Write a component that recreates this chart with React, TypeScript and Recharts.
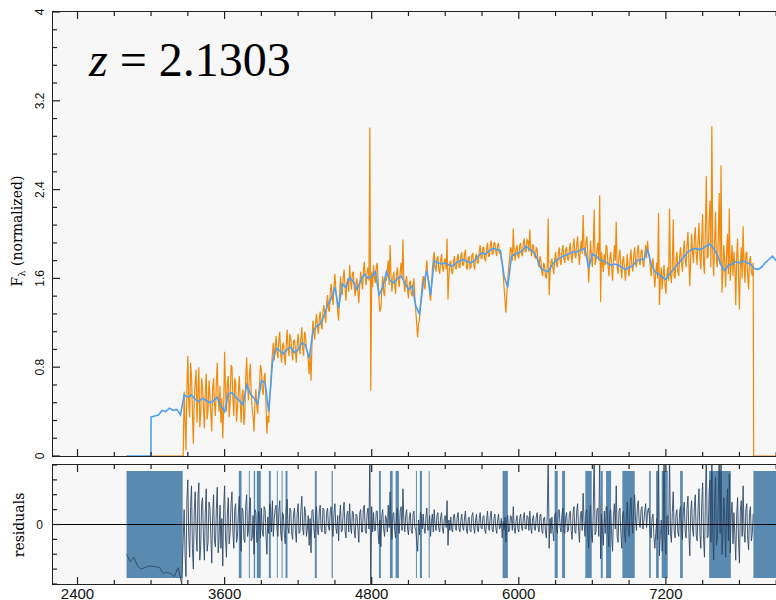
import React from 'react';
import {
  LineChart,
  Line,
  XAxis,
  YAxis,
  ReferenceArea,
  ReferenceLine,
} from 'recharts';

// Observed spectrum on a regular wavelength grid (Angstrom)
const FLUX_START = 3270;
const FLUX_STEP = 7.5;
// wavelengths where the observed flux sits at zero (outside the coverage)
const FLUX_ZERO_LEFT = [3000, 3262];
const FLUX_ZERO_RIGHT = [7916, 8160];

const FLUX = [
  /* 3270 */ 0.58, 0.31, 0.05, 0.62, 0.9, 0.48, 0.35, 0.84, 0.72, 0.4, 0.11, 0.52, 0.66, 0.78, 0.3, 0.57, 0.8, 0.26, 0.38, 0.7,
  /* 3420 */ 0.62, 0.44, 0.25, 0.58, 0.74, 0.33, 0.42, 0.68, 0.55, 0.39, 0.22, 0.61, 0.7, 0.47, 0.36, 0.66, 0.84, 0.5, 0.4, 0.63,
  /* 3570 */ 0.3, 0.52, 0.16, 0.45, 0.94, 0.6, 0.4, 0.66, 0.72, 0.35, 0.48, 0.82, 0.8, 0.52, 0.36, 0.7, 0.66, 0.31, 0.44, 0.58,
  /* 3720 */ 0.72, 0.48, 0.3, 0.55, 0.6, 0.28, 0.38, 0.7, 0.89, 0.62, 0.5, 0.74, 0.83, 0.56, 0.42, 0.35, 0.22, 0.48, 0.6, 0.45,
  /* 3870 */ 0.38, 0.56, 0.64, 0.82, 0.78, 0.6, 0.55, 0.71, 0.75, 0.48, 0.2, 0.36, 0.3, 0.52, 0.62, 0.8, 0.92, 1.02, 0.86, 0.98,
  /* 4020 */ 1.08, 0.94, 0.88, 1.04, 1.12, 0.92, 0.84, 0.99, 1.02, 0.9, 0.82, 1.0, 1.14, 0.97, 0.9, 1.1, 1.06, 0.95, 0.86, 1.03,
  /* 4170 */ 1.05, 0.96, 0.84, 1.0, 1.1, 0.98, 0.92, 1.06, 1.16, 0.96, 0.9, 1.12, 1.08, 0.97, 0.94, 0.86, 0.74, 0.92, 0.68, 1.0,
  /* 4320 */ 1.22, 1.12, 1.05, 1.2, 1.28, 1.16, 1.1, 1.24, 1.3, 1.18, 1.14, 1.3, 1.36, 1.26, 1.2, 1.38, 1.45, 1.32, 1.3, 1.48,
  /* 4470 */ 1.55, 1.44, 1.36, 1.52, 1.64, 1.5, 1.42, 1.3, 1.22, 1.44, 1.62, 1.5, 1.45, 1.6, 1.68, 1.52, 1.4, 1.56, 1.6, 1.48,
  /* 4620 */ 1.72, 1.58, 1.5, 1.64, 1.66, 1.52, 1.44, 1.56, 1.6, 1.48, 1.38, 1.54, 1.66, 1.58, 1.5, 1.68, 1.75, 1.6, 1.54, 1.66,
  /* 4770 */ 1.7, 1.58, 2.96, 0.59, 1.66, 1.52, 1.72, 1.6, 1.56, 1.7, 1.74, 1.58, 1.4, 1.3, 1.33, 1.5, 1.62, 1.48, 1.44, 1.6,
  /* 4920 */ 1.58, 1.68, 1.76, 1.54, 1.9, 1.62, 1.48, 1.6, 1.66, 1.55, 1.46, 1.64, 1.7, 1.58, 1.52, 1.66, 1.74, 1.6, 1.95, 1.56,
  /* 5070 */ 1.48, 1.58, 1.62, 1.5, 1.42, 1.56, 1.58, 1.46, 1.44, 1.54, 1.6, 1.42, 1.3, 1.18, 1.07, 1.2, 1.22, 1.36, 1.45, 1.56,
  /* 5220 */ 1.62, 1.54, 1.5, 1.66, 1.76, 1.62, 1.58, 1.46, 1.4, 1.52, 1.68, 1.78, 1.84, 1.7, 1.66, 1.78, 1.8, 1.68, 1.64, 1.76,
  /* 5370 */ 1.82, 1.7, 1.66, 1.76, 1.78, 1.68, 1.96, 1.41, 1.62, 1.74, 1.76, 1.66, 1.64, 1.76, 1.8, 1.7, 1.68, 1.78, 1.82, 1.7,
  /* 5520 */ 1.7, 1.8, 1.84, 1.72, 1.72, 1.82, 1.86, 1.7, 1.68, 1.78, 1.8, 1.69, 1.7, 1.81, 1.83, 1.72, 1.68, 1.8, 1.82, 1.74,
  /* 5670 */ 1.74, 1.84, 1.9, 1.78, 1.78, 1.88, 1.88, 1.77, 1.76, 1.86, 1.92, 1.8, 1.8, 1.9, 1.94, 1.82, 1.82, 1.92, 1.92, 1.84,
  /* 5820 */ 1.8, 1.9, 1.92, 1.82, 1.84, 1.76, 1.74, 1.64, 1.52, 1.4, 1.29, 1.46, 1.58, 1.7, 1.78, 1.88, 1.86, 1.76, 2.05, 1.84,
  /* 5970 */ 1.76, 1.86, 1.9, 1.8, 1.78, 1.9, 1.92, 1.82, 1.8, 1.92, 1.96, 1.84, 1.84, 1.95, 1.94, 1.84, 2.04, 1.86, 1.8, 1.9,
  /* 6120 */ 1.9, 1.8, 1.78, 1.88, 1.86, 1.74, 1.7, 1.8, 1.76, 1.66, 1.62, 1.74, 1.72, 1.62, 1.6, 1.72, 2.14, 1.45, 1.64, 1.74,
  /* 6270 */ 1.78, 1.7, 1.64, 1.76, 1.84, 1.74, 1.7, 1.82, 1.88, 1.76, 1.72, 1.84, 1.9, 1.78, 1.74, 1.86, 1.88, 1.78, 1.76, 1.86,
  /* 6420 */ 1.92, 1.8, 1.74, 1.88, 1.96, 1.82, 1.78, 1.9, 1.98, 1.84, 1.72, 1.86, 1.94, 1.82, 2.17, 1.88, 1.8, 1.92, 1.98, 1.84,
  /* 6570 */ 1.56, 1.74, 1.94, 1.8, 1.7, 1.88, 2.22, 1.72, 1.76, 1.86, 1.92, 1.76, 2.35, 1.39, 1.84, 1.74, 1.66, 1.82, 1.72, 1.9,
  /* 6720 */ 1.88, 1.72, 1.62, 1.78, 1.84, 1.7, 1.58, 1.74, 1.9, 1.76, 2.11, 1.7, 1.64, 1.8, 1.86, 1.7, 1.6, 1.76, 1.8, 1.68,
  /* 6870 */ 1.58, 1.7, 1.82, 1.68, 1.62, 1.76, 1.86, 1.72, 1.66, 1.8, 1.88, 1.74, 1.7, 1.84, 1.9, 1.76, 1.72, 1.84, 1.86, 1.74,
  /* 7020 */ 1.7, 1.82, 1.9, 1.78, 1.94, 1.84, 1.8, 1.7, 1.62, 1.74, 1.78, 1.64, 1.52, 1.66, 1.74, 1.6, 2.19, 1.36, 1.58, 1.7,
  /* 7170 */ 1.5, 1.64, 1.72, 1.56, 1.46, 1.62, 1.7, 1.58, 2.23, 1.64, 1.56, 1.7, 2.13, 1.62, 1.6, 1.76, 1.84, 1.66, 1.62, 1.8,
  /* 7320 */ 1.88, 1.74, 1.66, 1.84, 1.94, 1.78, 1.7, 1.9, 2.02, 1.76, 1.53, 1.8, 2.0, 1.84, 1.74, 1.96, 2.06, 1.82, 1.72, 1.94,
  /* 7470 */ 2.1, 1.8, 1.68, 1.96, 2.18, 1.74, 1.64, 2.06, 2.52, 1.78, 1.8, 2.12, 2.3, 1.7, 2.97, 1.84, 1.62, 1.92, 2.2, 1.76,
  /* 7620 */ 1.7, 1.96, 2.37, 1.72, 2.62, 1.47, 1.66, 1.9, 1.76, 1.52, 1.82, 2.0, 1.64, 2.23, 1.58, 1.74, 1.9, 1.62, 1.84, 1.7,
  /* 7770 */ 1.36, 1.78, 1.96, 1.64, 1.32, 1.7, 1.88, 1.6, 2.07, 1.72, 1.56, 1.82, 1.84, 1.62, 1.5, 1.76, 1.8, 1.66, 1.62, 1.74,
];

// Best-fit template
const MODEL_START = 3000;
const MODEL_STEP = 30;
const MODEL_ZERO_LEFT = [2800, 2999];

const MODEL = [
  /* 3000 */ 0.35, 0.36, 0.37, 0.41, 0.4, 0.43, 0.41, 0.42, 0.37, 0.55,
  /* 3300 */ 0.53, 0.55, 0.51, 0.49, 0.52, 0.5, 0.48, 0.5, 0.53, 0.45,
  /* 3600 */ 0.4, 0.56, 0.57, 0.53, 0.5, 0.46, 0.64, 0.56, 0.52, 0.47,
  /* 3900 */ 0.68, 0.66, 0.4, 0.84, 0.97, 0.95, 0.92, 0.96, 0.98, 0.93,
  /* 4200 */ 0.96, 1.02, 1.0, 0.88, 1.12, 1.17, 1.19, 1.26, 1.36, 1.42,
  /* 4500 */ 1.52, 1.33, 1.55, 1.52, 1.61, 1.57, 1.5, 1.58, 1.64, 1.6,
  /* 4800 */ 1.62, 1.66, 1.45, 1.52, 1.66, 1.58, 1.56, 1.6, 1.62, 1.56,
  /* 5100 */ 1.5, 1.53, 1.35, 1.28, 1.55, 1.67, 1.45, 1.76, 1.74, 1.73,
  /* 5400 */ 1.74, 1.72, 1.71, 1.74, 1.76, 1.77, 1.75, 1.74, 1.76, 1.8,
  /* 5700 */ 1.83, 1.82, 1.85, 1.87, 1.86, 1.85, 1.62, 1.52, 1.8, 1.82,
  /* 6000 */ 1.83, 1.85, 1.89, 1.86, 1.84, 1.78, 1.69, 1.67, 1.66, 1.72,
  /* 6300 */ 1.76, 1.78, 1.8, 1.81, 1.83, 1.84, 1.84, 1.86, 1.87, 1.69,
  /* 6600 */ 1.82, 1.8, 1.77, 1.76, 1.74, 1.72, 1.73, 1.72, 1.7, 1.68,
  /* 6900 */ 1.7, 1.71, 1.76, 1.77, 1.77, 1.86, 1.73, 1.66, 1.64, 1.61,
  /* 7200 */ 1.59, 1.64, 1.68, 1.72, 1.76, 1.8, 1.84, 1.86, 1.87, 1.86,
  /* 7500 */ 1.87, 1.89, 1.91, 1.87, 1.81, 1.72, 1.67, 1.72, 1.73, 1.75,
  /* 7800 */ 1.74, 1.76, 1.74, 1.73, 1.69, 1.68, 1.7, 1.74, 1.77, 1.8,
  /* 8100 */ 1.76, 1.74,
];

// Residuals: masked blue end on a coarse grid, then on the flux grid
const RESID_MASKED_START = 2800;
const RESID_MASKED_STEP = 30;
const RESID_MASKED = [
  -2.0, -2.5, -2.2, -2.8, -3.0, -2.9, -2.8, -2.8, -2.85, -2.9, -3.3, -3.2, -3.3, -3.5, -2.9, -4.0,
];

const RESID = [
  /* 3270 */ 1.0, -2.0, -3.5, 1.6, 3.0, -0.8, -2.2, 1.2, 2.6, -1.6, -3.0, 0.9, 2.2, -0.6, -1.8, 1.8, 2.8, -2.4, -1.4, 1.4,
  /* 3420 */ 1.8, -0.9, -2.4, 0.8, 2.4, -1.8, -1.2, 1.5, 1.2, -0.7, -2.6, 0.6, 2.0, -1.1, -1.5, 1.0, 2.5, -1.9, -1.0, 1.3,
  /* 3570 */ -1.6, 0.4, -2.8, 1.1, 2.6, -0.9, -2.2, 0.7, 1.8, -1.3, -0.6, 1.4, 2.2, -0.5, -1.6, 1.0, 1.4, -1.2, -0.8, 0.9,
  /* 3720 */ 1.9, -0.7, -1.8, 1.1, 0.9, -1.0, -1.2, 1.3, 2.0, -0.8, -0.4, 1.2, 1.8, -1.1, -0.9, 0.6, -2.0, 1.0, 0.8, -1.2,
  /* 3870 */ -1.1, 0.9, 0.6, -0.9, 1.1, -0.4, -0.8, 1.2, 1.0, -0.7, -2.0, 0.5, -0.6, 1.4, 1.2, -0.5, 1.6, -0.8, 0.4, 1.0,
  /* 4020 */ 1.3, -0.3, -0.8, 0.9, 1.6, -0.5, -1.1, 0.8, 0.6, -0.7, -1.3, 1.0, 1.7, -0.2, -0.6, 1.1, 0.9, -0.6, -1.0, 0.7,
  /* 4170 */ 1.1, -0.4, -1.2, 0.8, 1.4, -0.6, -0.5, 1.0, 1.9, -0.3, -0.7, 1.2, 0.8, -0.8, -0.3, 0.6, -1.4, 0.4, -1.9, 0.9,
  /* 4320 */ 1.0, -0.2, -0.9, 0.7, 1.2, -0.4, -0.7, 0.9, 1.3, -0.3, -0.5, 1.1, 1.0, -0.6, -0.6, 0.8, 1.1, -0.2, -0.4, 1.0,
  /* 4470 */ 1.2, -0.3, -0.8, 0.8, 1.4, -0.2, -0.6, 0.6, -1.1, 0.5, 1.3, -0.5, -0.4, 0.9, 1.5, -0.4, -0.9, 0.7, 0.9, -0.5,
  /* 4620 */ 1.4, -0.2, -0.6, 0.9, 0.8, -0.4, -0.9, 0.7, 0.6, -0.3, -1.2, 0.8, 1.0, -0.5, -0.5, 1.1, 1.3, -0.4, -0.6, 0.7,
  /* 4770 */ 1.1, -0.3, 5.0, -5.0, 1.2, -0.5, 0.8, -0.4, -0.4, 0.9, 0.9, -0.6, -1.3, 0.3, -1.5, 0.6, 1.0, -0.3, -0.8, 0.6,
  /* 4920 */ 0.4, -0.5, 1.3, -0.2, 2.2, 0.3, -1.0, 0.6, 0.8, -0.4, -0.9, 0.7, 1.1, -0.3, -0.6, 0.9, 1.2, -0.4, 2.4, 0.2,
  /* 5070 */ -0.5, 0.6, 1.0, -0.3, -0.7, 0.5, 0.8, -0.4, -0.6, 0.7, 0.9, -0.2, -0.4, -1.1, -1.8, 0.3, -0.7, 0.8, 0.6, -0.3,
  /* 5220 */ 0.7, -0.2, -0.6, 0.5, 1.1, -0.4, -0.3, 0.6, -0.8, 0.2, 0.7, -0.5, 1.0, -0.1, -0.4, 0.6, 0.8, -0.3, -0.5, 0.5,
  /* 5370 */ 0.8, -0.3, -0.6, 0.4, 0.6, -0.2, 1.6, -1.4, 0.3, -0.4, 0.5, -0.3, -0.5, 0.6, 0.7, -0.2, -0.4, 0.5, 0.8, -0.3,
  /* 5520 */ -0.5, 0.3, 0.7, -0.2, -0.4, 0.5, 0.9, -0.3, -0.6, 0.4, 0.5, -0.4, -0.5, 0.6, 0.8, -0.2, -0.6, 0.3, 0.7, -0.3,
  /* 5670 */ -0.5, 0.4, 0.8, -0.2, -0.3, 0.5, 0.6, -0.4, -0.6, 0.3, 0.9, -0.2, -0.4, 0.6, 0.9, -0.3, -0.5, 0.4, 0.7, -0.2,
  /* 5820 */ -0.6, 0.3, 0.7, -0.3, -0.2, 0.4, -0.9, 0.2, -0.4, 0.5, -1.2, 0.3, 0.6, -0.5, -0.3, 0.6, 0.5, -0.4, 1.2, -0.2,
  /* 5970 */ -0.6, 0.2, 0.6, -0.3, -0.5, 0.4, 0.7, -0.2, -0.4, 0.5, 0.8, -0.3, -0.3, 0.6, 0.5, -0.4, 0.9, -0.2, -0.6, 0.4,
  /* 6120 */ 0.6, -0.3, -0.4, 0.5, 0.8, -0.2, -0.5, 0.6, 0.7, -0.4, -0.6, 0.4, 0.5, -0.5, -0.9, 0.7, 4.8, -1.6, 0.4, -0.6,
  /* 6270 */ 0.5, -0.4, -1.1, 0.6, 0.8, -0.3, -0.6, 0.9, 1.0, -0.2, -0.5, 0.7, 1.1, -0.4, -0.6, 0.5, 0.8, -0.5, -0.4, 0.7,
  /* 6420 */ 0.9, -0.4, -1.0, 0.7, 1.2, -0.5, -0.6, 0.9, 1.4, -0.3, -1.2, 0.6, 0.9, -0.4, 2.1, 0.2, -0.8, 0.8, 1.0, -0.5,
  /* 6570 */ -1.6, 0.5, 1.3, -0.6, -1.2, 0.9, 4.8, -0.7, -0.5, 1.0, 1.1, -0.8, 4.8, -2.3, 0.7, -0.4, -1.4, 0.9, -0.6, 1.2,
  /* 6720 */ 1.2, -0.6, -1.5, 0.8, 1.0, -0.7, -1.8, 0.6, 1.4, -0.3, 2.6, -0.8, -1.2, 0.9, 1.1, -0.5, -1.6, 0.7, 0.9, -0.6,
  /* 6870 */ -1.2, 0.4, 1.5, -0.3, -0.8, 1.0, 1.8, 0.2, -0.6, 1.1, 2.0, 0.3, -0.4, 1.2, 1.6, 0.1, -0.2, 1.0, 1.2, -0.3,
  /* 7020 */ 0.2, 0.9, 1.4, -0.2, 0.8, 1.1, 0.6, -0.5, -0.9, 0.5, 0.7, -0.8, -1.6, -0.6, 0.4, -1.0, 4.8, -2.1, -0.7, 0.3,
  /* 7170 */ -1.8, -0.4, 4.8, -0.9, -2.0, 0.5, 0.6, -0.7, 4.8, -0.6, -1.2, 0.8, 2.2, -0.4, -0.9, 0.7, 1.0, -0.5, -0.8, 0.9,
  /* 7320 */ 1.2, -0.4, -1.0, 0.9, 1.5, -0.5, -0.9, 1.1, 1.9, -0.6, -2.1, 0.8, 1.6, -0.3, -0.8, 1.2, 2.0, -0.7, -1.1, 1.0,
  /* 7470 */ 2.4, -0.6, -1.6, 1.4, 2.8, -1.0, -2.2, 1.8, 4.8, -0.9, -0.8, 2.2, 3.0, -1.2, 4.8, -0.4, -2.4, 1.6, 3.2, -1.4,
  /* 7620 */ -1.0, 1.6, 4.8, -0.6, 4.8, -2.0, -0.9, 1.8, 0.6, -2.2, 0.9, 2.4, -1.1, 3.4, -1.9, 0.5, 1.5, -1.3, 0.8, -0.7,
  /* 7770 */ -2.4, 0.6, 1.8, -1.0, -2.6, 0.9, 1.6, -0.8, 2.6, -0.4, -1.2, 1.0, 1.4, -0.9, -1.7, 0.8, 1.2, -1.1, -0.6, 0.7,
];

// Masked wavelength ranges shaded in the residual panel
const MASKS = [
  [2800, 3258], [3716, 3738], [3798, 3806], [3838, 3849], [3863, 3895],
  [3961, 3977], [4026, 4034], [4065, 4073], [4097, 4113], [4336, 4352],
  [4473, 4483], [4859, 4875], [4949, 4971], [4995, 5022], [5161, 5169],
  [5193, 5210], [5265, 5273], [5868, 5911], [6293, 6318], [6353, 6377],
  [6543, 6595], [6669, 6685], [6712, 6753], [6845, 6946], [7063, 7077],
  [7120, 7142], [7166, 7215], [7316, 7338], [7553, 7730], [7914, 8200],
];

const X_TICKS = [
  2400, 2700, 3000, 3300, 3600, 3900, 4200, 4500, 4800, 5100, 5400, 5700,
  6000, 6300, 6600, 6900, 7200, 7500, 7800, 8100, 8400, 8700,
];
const X_LABELS = [2400, 3600, 4800, 6000, 7200, 8400];
const FLUX_TICKS = [
  0, 0.16, 0.32, 0.48, 0.64, 0.8, 0.96, 1.12, 1.28, 1.44, 1.6, 1.76, 1.92,
  2.08, 2.24, 2.4, 2.56, 2.72, 2.88, 3.04, 3.2, 3.36, 3.52, 3.68, 3.84, 4,
];
const FLUX_LABELS = [0, 0.8, 1.6, 2.4, 3.2, 4];
const RESID_TICKS = [-4, -3, -2, -1, 0, 1, 2, 3, 4];
const RESID_LABELS = [0];

const X_DOMAIN: [number, number] = [2200, 8800];
const ORANGE = '#f28a0c';
const BLUE = '#4ba0f2';
const NAVY = '#2a4565';
const BAND = '#5a8ab0';
const PANEL_BG = '#f7f7f7';
const INK = '#222';
const SANS = '"Liberation Sans", Arial, sans-serif';
const SERIF = '"DejaVu Serif", serif';

const fluxPts = [
  ...FLUX_ZERO_LEFT.map((w) => ({ w, f: 0 })),
  ...FLUX.map((f, i) => ({ w: FLUX_START + i * FLUX_STEP, f })),
  ...FLUX_ZERO_RIGHT.map((w) => ({ w, f: 0 })),
];
const modelPts = [
  ...MODEL_ZERO_LEFT.map((w) => ({ w, m: 0 })),
  ...MODEL.map((m, i) => ({ w: MODEL_START + i * MODEL_STEP, m })),
];
const residPts = [
  ...RESID_MASKED.map((r, i) => ({ w: RESID_MASKED_START + i * RESID_MASKED_STEP, r })),
  ...RESID.map((r, i) => ({ w: FLUX_START + i * FLUX_STEP, r })),
];

// inward tick marks on a horizontal axis; dir = +1 points down, -1 points up
function XTick(props: any) {
  const { x, y, payload, dir, labels } = props;
  const major = X_LABELS.includes(payload.value);
  return (
    <g>
      <line x1={x} x2={x} y1={y} y2={y + dir * (major ? 7 : 4)} stroke={INK} strokeWidth={1.2} />
      {labels && major && (
        <text x={x} y={y + 15} textAnchor="middle" fontSize={15} fontFamily={SANS} fill="#111">
          {payload.value}
        </text>
      )}
    </g>
  );
}

function FluxTick(props: any) {
  const { x, y, payload } = props;
  const major = FLUX_LABELS.includes(payload.value);
  const tx = x - 9;
  return (
    <g>
      <line x1={x} x2={x + (major ? 7 : 4)} y1={y} y2={y} stroke={INK} strokeWidth={1.2} />
      {major && (
        <text
          x={tx}
          y={y}
          transform={`rotate(-90 ${tx} ${y})`}
          textAnchor="middle"
          fontSize={12}
          fontFamily={SANS}
          fill="#111"
        >
          {String(payload.value)}
        </text>
      )}
    </g>
  );
}

function ResidTick(props: any) {
  const { x, y, payload } = props;
  const major = RESID_LABELS.includes(payload.value);
  return (
    <g>
      <line x1={x} x2={x + (major ? 7 : 4)} y1={y} y2={y} stroke={INK} strokeWidth={1.2} />
      {major && (
        <text x={x - 10} y={y + 4.3} textAnchor="end" fontSize={12} fontFamily={SANS} fill="#111">
          {String(payload.value)}
        </text>
      )}
    </g>
  );
}

// bottom + top wavelength axes sharing one domain and tick set;
// the frame itself comes from the panel borders so the data draws over it
function xAxes(withLabels: boolean, bottomHeight: number) {
  return [
    <XAxis
      key="b"
      xAxisId="b"
      type="number"
      dataKey="w"
      domain={X_DOMAIN}
      ticks={X_TICKS}
      interval={0}
      allowDataOverflow
      height={bottomHeight}
      tickSize={0}
      tickMargin={0}
      tickLine={false}
      axisLine={false}
      tick={(p: any) => <XTick {...p} dir={-1} labels={withLabels} />}
    />,
    <XAxis
      key="t"
      xAxisId="t"
      orientation="top"
      type="number"
      dataKey="w"
      domain={X_DOMAIN}
      ticks={X_TICKS}
      interval={0}
      allowDataOverflow
      height={1}
      tickSize={0}
      tickMargin={0}
      tickLine={false}
      axisLine={false}
      tick={(p: any) => <XTick {...p} dir={1} labels={false} />}
    />,
  ];
}

const panelFrame = {
  position: 'absolute' as const,
  left: 52,
  width: 810,
  boxSizing: 'border-box' as const,
  background: PANEL_BG,
  borderTop: `1px solid ${INK}`,
  borderLeft: `1px solid ${INK}`,
  borderBottom: `1px solid ${INK}`,
};

export default function App() {
  return (
    <div
      style={{
        position: 'fixed',
        left: 0,
        top: 0,
        width: 776,
        height: 600,
        overflow: 'hidden',
        background: '#fff',
      }}
    >
      {/* panel backgrounds and frames sit under the transparent chart surfaces */}
      <div style={{ ...panelFrame, top: 11, height: 446 }} />
      <div style={{ ...panelFrame, top: 464, height: 121 }} />

      <div style={{ position: 'absolute', left: 0, top: 0 }}>
        <LineChart width={862} height={460} margin={{ top: 11, right: 0, bottom: 3, left: 0 }}>
          {xAxes(false, 1)}
          <YAxis
            yAxisId="f"
            type="number"
            domain={[0, 4]}
            ticks={FLUX_TICKS}
            interval={0}
            allowDataOverflow
            width={53}
            tickSize={0}
            tickMargin={0}
            tickLine={false}
            axisLine={false}
            tick={(p: any) => <FluxTick {...p} />}
          />
          <Line
            xAxisId="b"
            yAxisId="f"
            data={fluxPts}
            dataKey="f"
            type="linear"
            stroke={ORANGE}
            strokeWidth={1.2}
            dot={false}
            isAnimationActive={false}
          />
          <Line
            xAxisId="b"
            yAxisId="f"
            data={modelPts}
            dataKey="m"
            type="linear"
            stroke={BLUE}
            strokeWidth={1.6}
            dot={false}
            isAnimationActive={false}
          />
        </LineChart>
      </div>

      <div style={{ position: 'absolute', left: 0, top: 453 }}>
        <LineChart width={862} height={147} margin={{ top: 11, right: 0, bottom: 0, left: 0 }}>
          {xAxes(true, 16)}
          <YAxis
            yAxisId="r"
            type="number"
            domain={[-4, 4]}
            ticks={RESID_TICKS}
            interval={0}
            allowDataOverflow
            width={53}
            tickSize={0}
            tickMargin={0}
            tickLine={false}
            axisLine={false}
            tick={(p: any) => <ResidTick {...p} />}
          />
          {MASKS.map(([a, b]) => (
            <ReferenceArea
              key={a}
              xAxisId="b"
              yAxisId="r"
              x1={a}
              x2={b}
              y1={-3.6}
              y2={3.6}
              fill={BAND}
              fillOpacity={1}
              stroke="none"
              ifOverflow="hidden"
            />
          ))}
          <Line
            xAxisId="b"
            yAxisId="r"
            data={residPts}
            dataKey="r"
            type="linear"
            stroke={NAVY}
            strokeOpacity={0.88}
            strokeWidth={1}
            dot={false}
            isAnimationActive={false}
          />
          <ReferenceLine xAxisId="b" yAxisId="r" y={0} stroke="#000" strokeWidth={1.2} />
        </LineChart>
      </div>

      <svg
        width={776}
        height={600}
        style={{ position: 'absolute', left: 0, top: 0, pointerEvents: 'none' }}
      >
        <text x={89} y={76} fontSize={48} fontFamily='"Liberation Serif", "Times New Roman", serif' fill="#000">
          <tspan fontStyle="italic">z</tspan>
          <tspan> = 2.1303</tspan>
        </text>
        <text
          x={22}
          y={231}
          transform="rotate(-90 22 231)"
          textAnchor="middle"
          fontSize={14}
          fontFamily={SERIF}
          fill="#000"
        >
          F<tspan fontSize={10} dy={3}>λ</tspan>
          <tspan dy={-3}> (normalized)</tspan>
        </text>
        <text
          x={24}
          y={525}
          transform="rotate(-90 24 525)"
          textAnchor="middle"
          fontSize={14}
          fontFamily={SERIF}
          fill="#000"
        >
          residuals
        </text>
      </svg>
    </div>
  );
}
